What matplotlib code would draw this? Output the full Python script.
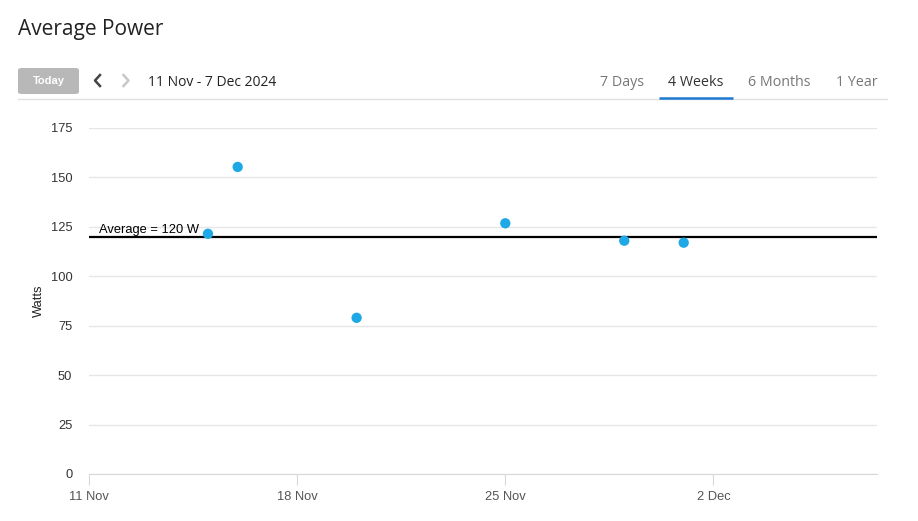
import numpy as np
import pandas as pd
import matplotlib.pyplot as plt
import matplotlib.dates as mdates
from matplotlib.patches import FancyBboxPatch

# data
dates = pd.to_datetime(['2024-11-15', '2024-11-16', '2024-11-20', '2024-11-25', '2024-11-29', '2024-12-01'])
watts = [121.5, 155.3, 79.0, 126.8, 118.0, 117.0]
average = 120
tick_dates = pd.to_datetime(['2024-11-11', '2024-11-18', '2024-11-25', '2024-12-02'])
tick_labels = ['11 Nov', '18 Nov', '25 Nov', '2 Dec']
y_ticks = [0, 25, 50, 75, 100, 125, 150, 175]
tabs = ['7 Days', '4 Weeks', '6 Months', '1 Year']
tab_x = [622, 696, 779, 857]

W, H = 918, 521
fig = plt.figure(figsize=(W / 100, H / 100), dpi=100)

def fx(px):
    return px / W

def fy(py):
    return 1 - py / H

# header
fig.text(fx(18), fy(30), 'Average Power', fontsize=15, family='Open Sans', color='#222222',
         va='center', ha='left')
btn = FancyBboxPatch((fx(18), fy(94)), fx(61), (94 - 68) / H, boxstyle='round,pad=0,rounding_size=0.004',
                     transform=fig.transFigure, facecolor='#b8b8b8', edgecolor='none')
fig.patches.append(btn)
fig.text(fx(48.5), fy(81.5), 'Today', fontsize=8, family='Liberation Sans', fontweight='bold',
         color='white', ha='center', va='center')
# chevrons
fig.add_artist(plt.Line2D([fx(100), fx(95), fx(100)], [fy(75), fy(80.5), fy(86)], color='#444444', lw=1.8,
                          transform=fig.transFigure))
fig.add_artist(plt.Line2D([fx(123.5), fx(128.5), fx(123.5)], [fy(75), fy(80.5), fy(86)], color='#c8c8c8', lw=1.8,
                          transform=fig.transFigure))
fig.text(fx(148), fy(83), '11 Nov - 7 Dec 2024', fontsize=10, family='Open Sans', color='#222222',
         ha='left', va='center')
for t, x in zip(tabs, tab_x):
    c = '#333333' if t == '4 Weeks' else '#777777'
    fig.text(fx(x), fy(82.5), t, fontsize=10.3, family='Open Sans', color=c, ha='center', va='center')
fig.add_artist(plt.Line2D([fx(18), fx(887)], [fy(98.5), fy(98.5)], color='#e0e0e0', lw=1,
                          transform=fig.transFigure))
fig.add_artist(plt.Line2D([fx(659), fx(733)], [fy(97.5), fy(97.5)], color='#1e7ad0', lw=1.8,
                          transform=fig.transFigure, solid_capstyle='butt'))

# chart
ax = fig.add_axes([fx(89), fy(474), fx(877) - fx(89), (474 - 128) / H])
ax.set_xlim(pd.Timestamp('2024-11-11'), pd.Timestamp('2024-12-07 12:00'))
ax.set_ylim(0, 175)
ax.set_yticks(y_ticks)
ax.grid(axis='y', color='#e6e6e6', lw=1)
ax.set_axisbelow(True)
ax.set_xticks(tick_dates)
ax.set_xticklabels(tick_labels)
for s in ['top', 'right', 'left']:
    ax.spines[s].set_visible(False)
ax.spines['bottom'].set_color('#d8d8d8')
ax.tick_params(axis='x', length=8, color='#d8d8d8', labelsize=9.3, labelcolor='#555555', pad=4)
ax.tick_params(axis='y', length=0, labelsize=9.3, labelcolor='#333333', pad=12)
for lab in ax.get_xticklabels() + ax.get_yticklabels():
    lab.set_family('Liberation Sans')
ax.set_ylabel('Watts', fontsize=9.3, family='Liberation Sans', color='#222222', labelpad=4)

ax.axhline(average, color='black', lw=1.6, zorder=2)
ax.text(pd.Timestamp('2024-11-11 08:00'), average + 0.5, 'Average = %d W' % average,
        fontsize=9.3, family='Liberation Sans', color='black', va='bottom', ha='left')
ax.scatter(dates, watts, s=55, color='#1ea8e6', zorder=3, edgecolors='none', clip_on=False)

fig.savefig('out.png', dpi=100)
